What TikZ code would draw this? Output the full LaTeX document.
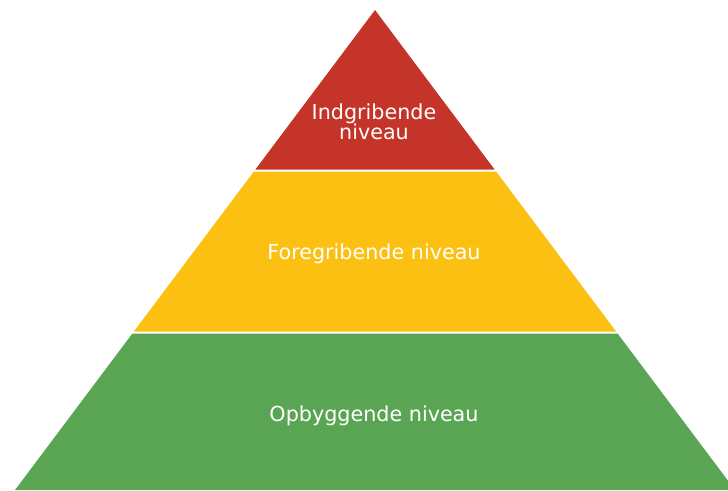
\documentclass[tikz,border=0pt]{standalone}
\usepackage{fontspec}
\setmainfont{DejaVu Sans}
\definecolor{pyrred}{RGB}{196,52,40}
\definecolor{pyryellow}{RGB}{251,192,18}
\definecolor{pyrgreen}{RGB}{90,165,83}
\begin{document}
\begin{tikzpicture}[x=1pt,y=-1pt,
  lbl/.style={text=white,font=\fontsize{20.7}{20.5}\selectfont,align=center,inner sep=0pt}]
\useasboundingbox (0,0) rectangle (728,490);
\clip (0,0) rectangle (728,490);
\fill[pyrred] (375,10) -- (494.6,169.5) -- (255.4,169.5) -- cycle;
\fill[pyryellow] (253.9,171.5) -- (496.1,171.5) -- (616.1,331.5) -- (133.9,331.5) -- cycle;
\fill[pyrgreen] (132.4,333.5) -- (617.6,333.5) -- (735,490) -- (15,490) -- cycle;
\node[lbl] (top) at (374,122) {Indgribende\\niveau};
\node[lbl] (mid) at (374,253.5) {Foregribende niveau};
\node[lbl] (bot) at (374,415.5) {Opbyggende niveau};
\end{tikzpicture}
\end{document}
